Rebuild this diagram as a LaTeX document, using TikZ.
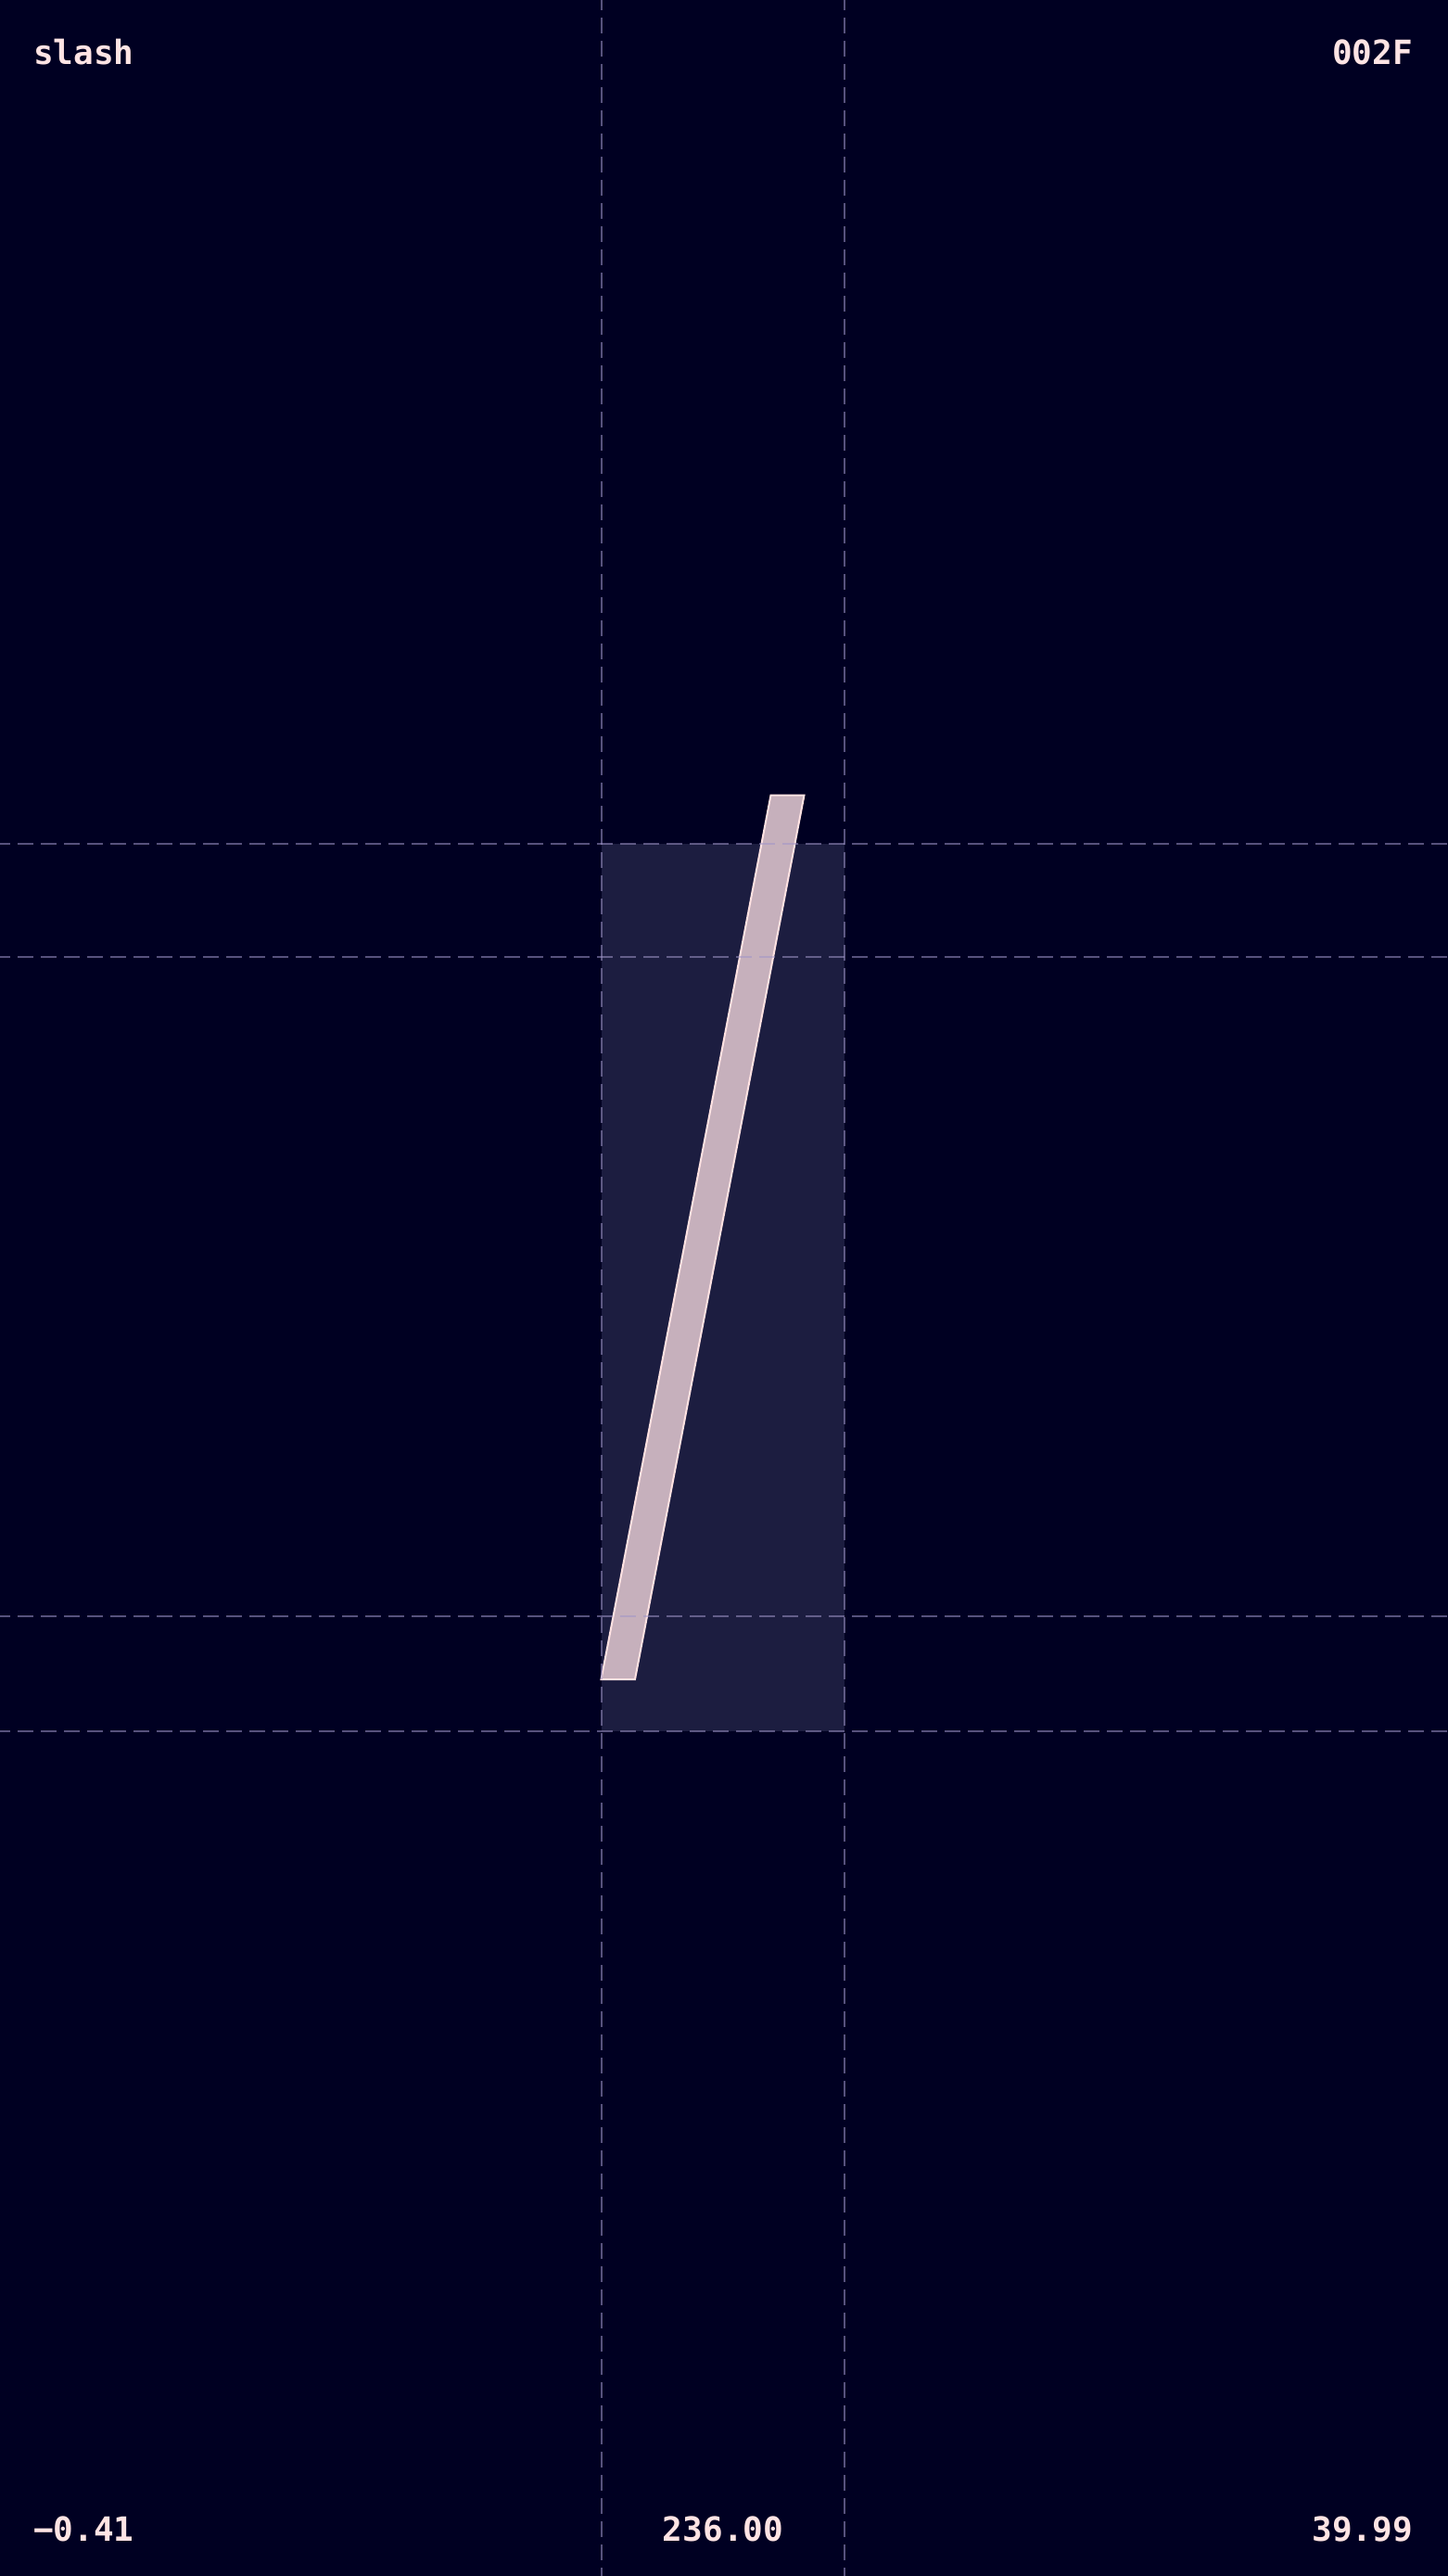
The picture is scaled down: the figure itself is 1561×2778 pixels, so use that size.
\documentclass[tikz,border=0pt]{standalone}
\usepackage{fontspec}
\newfontfamily\monofont{DejaVu Sans Mono}
\definecolor{bgcol}{RGB}{0,0,34}
\definecolor{boxcol}{RGB}{28,29,64}
\definecolor{glyphfill}{RGB}{198,176,188}
\definecolor{glyphline}{RGB}{255,226,226}
\definecolor{gridcol}{RGB}{160,150,200}
\definecolor{txtcol}{RGB}{255,228,228}
\tikzset{
  gridline/.style={draw=gridcol, draw opacity=0.55, line width=2.6pt, dash pattern=on 17pt off 8pt},
  label/.style={text=txtcol, font=\monofont\bfseries\fontsize{36}{40}\selectfont, inner sep=0pt}
}
\begin{document}
\begin{tikzpicture}[x=1pt,y=-1pt]
\useasboundingbox (0,0) rectangle (1561,2778);
\fill[bgcol] (-6,-6) rectangle (1567,2784);
\fill[boxcol] (649,910) rectangle (911,1867);
\filldraw[fill=glyphfill, draw=glyphline, line width=2pt, line join=miter]
  (831.5,857.5) -- (867.5,857.5) -- (685,1811) -- (648.5,1811) -- cycle;
\draw[gridline] (649,-6) -- (649,2784);
\draw[gridline] (911,-6) -- (911,2784);
\draw[gridline] (-6,910) -- (1567,910);
\draw[gridline] (-6,1032) -- (1567,1032);
\draw[gridline] (-6,1743) -- (1567,1743);
\draw[gridline] (-6,1867) -- (1567,1867);
\node[label, anchor=base west] (name) at (36,70) {slash};
\node[label, anchor=base east] (code) at (1524,70) {002F};
\node[label, anchor=base west] (lsb) at (36,2740) {−0.41};
\node[label, anchor=base] (adv) at (780,2740) {236.00};
\node[label, anchor=base east] (rsb) at (1524,2740) {39.99};
\end{tikzpicture}
\end{document}
